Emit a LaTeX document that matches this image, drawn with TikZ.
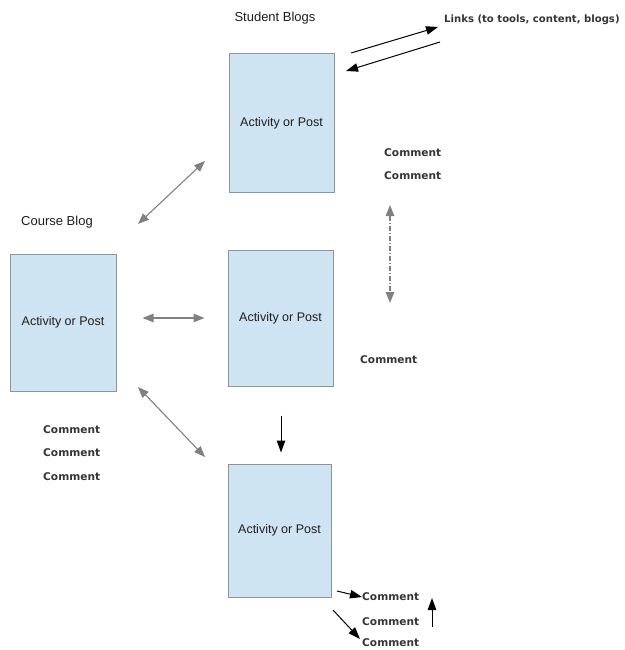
\documentclass[tikz,border=0pt]{standalone}
\usepackage{fontspec}
\setmainfont{Liberation Sans}
\newfontfamily\cmtfont{DejaVu Sans}
\usetikzlibrary{arrows.meta}
\definecolor{boxfill}{RGB}{206,228,243}
\definecolor{boxline}{RGB}{140,148,158}
\definecolor{arrgray}{RGB}{128,128,128}
\definecolor{txt}{RGB}{30,30,30}
\tikzset{
  post/.style={draw=boxline, line width=1pt, fill=boxfill, inner sep=0pt,
    font=\fontsize{12.5}{14}\selectfont, text=txt},
  title/.style={font=\fontsize{13}{15}\selectfont, text=txt, inner sep=0pt},
  cmt/.style={font=\cmtfont\bfseries\fontsize{10.6}{12}\selectfont, text=txt!90, inner sep=0pt, anchor=west},
  grayarr/.style={draw=arrgray, line width=1.1pt, {Triangle[length=11pt,width=8.5pt]}-{Triangle[length=11pt,width=8.5pt]}},
  blackarr/.style={draw=black, line width=1pt, -{Triangle[length=12pt,width=8.5pt]}},
}
\begin{document}
\begin{tikzpicture}[x=1pt,y=-1pt]
\useasboundingbox (0,0) rectangle (624,650);
\clip (0,0) rectangle (624,650);
% boxes
\node[post, minimum width=105pt, minimum height=138pt] (top) at (281.5,123) {Activity or Post};
\node[post, minimum width=105pt, minimum height=136pt] (mid) at (280.5,318) {Activity or Post};
\node[post, minimum width=103pt, minimum height=133pt] (bot) at (279.5,530.5) {Activity or Post};
\node[post, minimum width=106pt, minimum height=137pt] (left) at (63,322.5) {Activity or Post};
% titles
\node[title] (sb) at (275,18) {Student Blogs};
\node[title] (cb) at (57,222) {Course Blog};
\node[cmt, anchor=west, font=\cmtfont\bfseries\fontsize{10.1}{12}\selectfont] (links) at (444,20) {Links (to tools, content, blogs)};
% comments
\node[cmt] (c1) at (384,153) {Comment};
\node[cmt] (c2) at (384,176) {Comment};
\node[cmt] (c3) at (360,360) {Comment};
\node[cmt] (l1) at (43,430) {Comment};
\node[cmt] (l2) at (43,453) {Comment};
\node[cmt] (l3) at (43,477) {Comment};
\node[cmt] (b1) at (362,597) {Comment};
\node[cmt] (b2) at (362,622) {Comment};
\node[cmt] (b3) at (362,643) {Comment};
% arrow end coordinates
\coordinate (d1a) at (138,224);
\coordinate (d1b) at (205,161);
\coordinate (d2a) at (138,387);
\coordinate (d2b) at (205,457);
\coordinate (v1) at (390,205);
\coordinate (v2) at (390,303);
\coordinate (la1) at (351,53);
\coordinate (la2) at (438,27);
\coordinate (lb1) at (440,42);
\coordinate (lb2) at (346,71);
\coordinate (s1) at (337,591);
\coordinate (s2) at (333,610);
\coordinate (s3) at (360,639);
\coordinate (u1) at (432,627);
\coordinate (u2) at (432,598);
% gray connectors
\draw[grayarr] (d1a) -- (d1b);
\draw[grayarr] (d2a) -- (d2b);
\draw[grayarr, shorten <=26pt, shorten >=23pt] (left.east |- 0,318) -- (mid.west |- 0,318);
\draw[grayarr, dash pattern=on 5pt off 2pt on 1pt off 2pt] (v1) -- (v2);
% black connectors
\draw[blackarr] (la1) -- (la2);
\draw[blackarr] (lb1) -- (lb2);
\draw[blackarr, shorten <=29pt, shorten >=11pt] (mid.south -| 281,0) -- (bot.north -| 281,0);
\draw[blackarr] (s1) -- (b1.west);
\draw[blackarr] (s2) -- (s3);
\draw[blackarr] (u1) -- (u2);
\end{tikzpicture}
\end{document}
